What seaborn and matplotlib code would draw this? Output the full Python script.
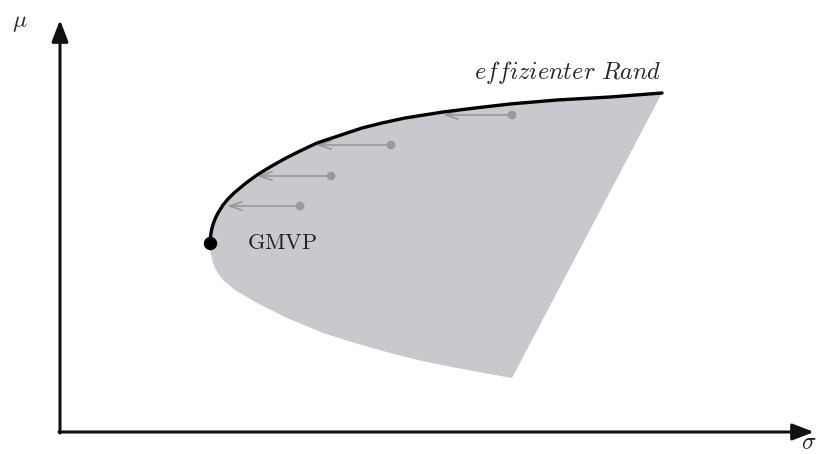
import numpy as np
import pandas as pd
import matplotlib
matplotlib.use("Agg")
import matplotlib.pyplot as plt
import seaborn as sns

# ----------------------------------
# Data (sigma = risk, mu = expected return)
# ----------------------------------
# upper branch: efficient frontier, from GMVP up to the right end
upper_sigma = [1.500, 1.503, 1.510, 1.520, 1.535, 1.555, 1.580, 1.630, 1.680, 1.740,
               1.860, 1.970, 2.100, 2.260, 2.400, 2.570, 2.780, 3.020, 3.220, 3.450,
               3.830, 4.150, 4.500, 4.970, 5.500, 6.020]
upper_mu = [1.89, 1.94, 1.99, 2.04, 2.09, 2.14, 2.19, 2.27, 2.33, 2.39,
            2.49, 2.57, 2.65, 2.74, 2.81, 2.89, 2.96, 3.04, 3.09, 3.14,
            3.20, 3.24, 3.28, 3.32, 3.35, 3.39]

# lower branch: inefficient part, from GMVP down to the lower tip
lower_sigma = [1.500, 1.505, 1.530, 1.550, 1.580, 1.630, 1.750, 1.970, 2.270, 2.630,
               2.950, 3.300, 3.620, 3.970, 4.240, 4.520]
lower_mu = [1.89, 1.79, 1.69, 1.64, 1.59, 1.52, 1.42, 1.29, 1.14, 0.99,
            0.89, 0.79, 0.71, 0.64, 0.59, 0.54]

gmvp_sigma, gmvp_mu = 1.50, 1.89

# inefficient portfolios and where they move to (same mu, lower sigma)
port_sigma = [2.40, 2.71, 3.31, 4.52]
port_mu = [2.26, 2.56, 2.87, 3.17]
target_sigma = [1.67, 1.97, 2.56, 3.83]

fill_color = "#c8c9cc"
gray = "#9a9a9a"

# ----------------------------------
# Figure
# ----------------------------------
sns.set_style("white")
plt.rcParams["mathtext.fontset"] = "cm"

fig = plt.figure(figsize=(8.19, 4.54), dpi=100)
ax = fig.add_axes([60 / 819, 22 / 454, 759 / 819, 432 / 454])
ax.set_xlim(0, 7.59)
ax.set_ylim(0, 4.32)
for s in ax.spines.values():
    s.set_visible(False)
ax.set_xticks([])
ax.set_yticks([])

# shaded set of attainable portfolios
poly_sigma = upper_sigma + lower_sigma[::-1]
poly_mu = upper_mu + lower_mu[::-1]
ax.fill(poly_sigma, poly_mu, color=fill_color, lw=0, zorder=1)

# efficient frontier
frontier = pd.DataFrame({"sigma": upper_sigma, "mu": upper_mu})
sns.lineplot(data=frontier, x="sigma", y="mu", sort=False, color="black",
             lw=2.4, ax=ax, zorder=4)

# arrows to the frontier
for ps, pm, ts in zip(port_sigma, port_mu, target_sigma):
    ax.annotate("", xy=(ts, pm), xytext=(ps, pm),
                arrowprops=dict(arrowstyle="->,head_length=0.9,head_width=0.3",
                                color=gray, lw=1.2, shrinkA=0, shrinkB=0),
                zorder=3)
pts = pd.DataFrame({"sigma": port_sigma, "mu": port_mu})
sns.scatterplot(data=pts, x="sigma", y="mu", color=gray, s=40,
                edgecolor="none", ax=ax, zorder=3)

# GMVP
ax.scatter([gmvp_sigma], [gmvp_mu], color="black", s=75, zorder=5)
ax.text(gmvp_sigma + 0.37, gmvp_mu, r"$\mathrm{GMVP}$", fontsize=16,
        va="center", ha="left", color="#222222")
ax.text(upper_sigma[-1], upper_mu[-1] + 0.07, r"$\mathit{effizienter\ Rand}$",
        fontsize=17.5, va="bottom", ha="right")

# axes with arrow heads
ax.annotate("", xy=(7.54, 0), xytext=(-0.01, 0), annotation_clip=False,
            arrowprops=dict(arrowstyle="-|>,head_length=1.3,head_width=0.5",
                            color="#111111", lw=2.2, shrinkA=0, shrinkB=0))
ax.annotate("", xy=(0, 4.12), xytext=(0, -0.01), annotation_clip=False,
            arrowprops=dict(arrowstyle="-|>,head_length=1.3,head_width=0.5",
                            color="#111111", lw=2.2, shrinkA=0, shrinkB=0))
ax.set_xlabel("")
ax.set_ylabel("")
fig.text(20 / 819, 1 - 22 / 454, r"$\mu$", fontsize=17, ha="center", va="center")
fig.text(801 / 819, 1 - 442 / 454, r"$\sigma$", fontsize=17, ha="left", va="center")

fig.savefig("out.png", dpi=100)
